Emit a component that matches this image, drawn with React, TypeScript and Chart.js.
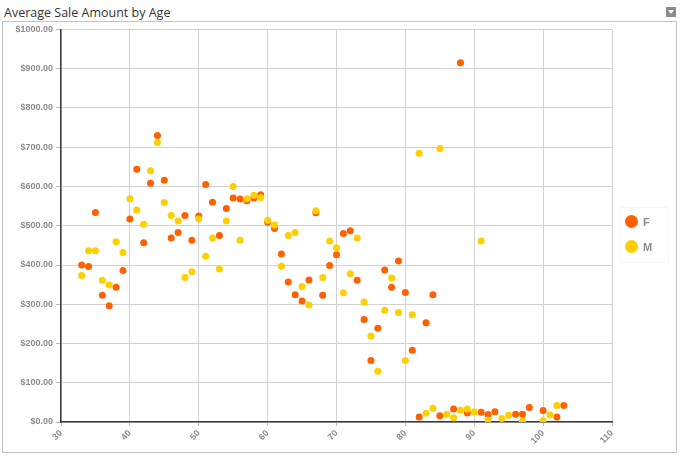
import React, { useEffect, useRef } from "react";
import { Chart, registerables } from "chart.js";

Chart.register(...registerables);

const TITLE = "Average Sale Amount by Age";
const SERIES_NAMES = ["F", "M"];
const SERIES_COLORS = ["#FF6100", "#FFCF00"];

const F_AGES = [33, 34, 35, 36, 37, 38, 39, 40, 41, 42, 43, 44, 45, 46, 47, 48, 49, 50, 51, 52, 53, 54, 55, 56, 57, 58, 59, 60, 61, 62, 63, 64, 65, 66, 67, 68, 69, 70, 71, 72, 73, 74, 75, 76, 77, 78, 79, 80, 81, 82, 83, 84, 85, 87, 88, 89, 91, 92, 93, 96, 97, 98, 100, 102, 103];
const F_SALES = [400, 396, 534, 323, 296, 343, 386, 517, 644, 457, 608, 730, 616, 469, 483, 526, 463, 525, 605, 560, 475, 544, 571, 568, 564, 571, 579, 509, 493, 428, 357, 324, 308, 362, 533, 323, 399, 426, 480, 487, 361, 261, 157, 239, 387, 343, 410, 330, 183, 13, 253, 324, 16, 33, 915, 23, 25, 19, 26, 20, 20, 37, 29, 13, 42];

const M_AGES = [33, 34, 35, 36, 37, 38, 39, 40, 41, 42, 43, 44, 45, 46, 47, 48, 49, 50, 51, 52, 53, 54, 55, 56, 57, 58, 59, 60, 61, 62, 63, 64, 65, 66, 67, 68, 69, 70, 71, 72, 73, 74, 75, 76, 77, 78, 79, 80, 81, 82, 83, 84, 85, 86, 87, 88, 89, 90, 91, 92, 94, 95, 97, 100, 101, 102];
const M_SALES = [373, 436, 436, 361, 349, 459, 432, 569, 540, 504, 640, 712, 559, 526, 512, 368, 383, 517, 422, 469, 390, 512, 600, 463, 569, 578, 572, 514, 502, 397, 475, 483, 345, 298, 538, 368, 461, 444, 329, 378, 469, 306, 219, 129, 285, 367, 279, 157, 273, 685, 22, 35, 697, 20, 11, 30, 33, 26, 461, 5, 9, 17, 3, 3, 18, 42];

const X_MIN = 30;
const X_MAX = 110;
const X_STEP = 10;
const Y_MIN = 0;
const Y_MAX = 1000;
const Y_STEP = 100;

const toPoints = (xs: number[], ys: number[]) => xs.map((x, i) => ({ x, y: ys[i] }));

export default function App() {
  const canvasRef = useRef<HTMLCanvasElement | null>(null);

  useEffect(() => {
    const canvas = canvasRef.current;
    if (!canvas) return;
    const tickFont = { family: "'Liberation Sans', Arial, sans-serif", size: 9, weight: "bold" as const };
    const chart = new Chart(canvas, {
      type: "scatter",
      data: {
        datasets: [
          {
            label: SERIES_NAMES[0],
            data: toPoints(F_AGES, F_SALES),
            backgroundColor: SERIES_COLORS[0],
            borderWidth: 0,
            pointRadius: 3.5,
            order: 1,
          },
          {
            label: SERIES_NAMES[1],
            data: toPoints(M_AGES, M_SALES),
            backgroundColor: SERIES_COLORS[1],
            borderWidth: 0,
            pointRadius: 3.5,
            order: 0,
          },
        ],
      },
      options: {
        animation: false,
        responsive: false,
        maintainAspectRatio: false,
        layout: { padding: { left: 0, right: 69, top: 29.5, bottom: 0 } },
        plugins: {
          legend: { display: false },
          tooltip: { enabled: false },
          title: { display: false },
        },
        scales: {
          x: {
            type: "linear",
            min: X_MIN,
            max: X_MAX,
            afterFit: (s: any) => {
              s.height = 36;
            },
            ticks: {
              stepSize: X_STEP,
              minRotation: 45,
              maxRotation: 45,
              color: "#8c8c8c",
              font: tickFont,
              padding: 2,
            },
            grid: { color: "#d2d2d2", lineWidth: 1, tickLength: 4, tickColor: "#bdbdbd" },
            border: { color: "#3a3a3a", width: 1.5 },
          },
          y: {
            type: "linear",
            min: Y_MIN,
            max: Y_MAX,
            afterFit: (s: any) => {
              s.width = 61;
            },
            ticks: {
              stepSize: Y_STEP,
              color: "#8c8c8c",
              font: tickFont,
              padding: 3,
              callback: (v: any) => "$" + Number(v).toFixed(2),
            },
            grid: { color: "#d2d2d2", lineWidth: 1, tickLength: 5, tickColor: "#bdbdbd" },
            border: { color: "#3a3a3a", width: 1.5 },
          },
        },
      },
    });
    return () => chart.destroy();
  }, []);

  const legendText: React.CSSProperties = {
    fontFamily: "'Liberation Sans', Arial, sans-serif",
    fontWeight: "bold",
    fontSize: 11,
    color: "#8c8c8c",
    marginLeft: 5,
  };

  return (
    <div style={{ position: "fixed", left: 0, top: 0, width: 681, height: 458, background: "#fff", overflow: "hidden" }}>
      <div
        style={{
          position: "absolute",
          left: 4,
          top: 4,
          fontFamily: "'Open Sans', sans-serif",
          fontSize: 12.5,
          color: "#333",
          whiteSpace: "nowrap",
        }}
      >
        {TITLE}
      </div>
      <div
        style={{
          position: "absolute",
          left: 666,
          top: 7,
          width: 10,
          height: 10,
          background: "#8a8a8a",
        }}
      >
        <div
          style={{
            position: "absolute",
            left: 2,
            top: 3,
            width: 0,
            height: 0,
            borderLeft: "3px solid transparent",
            borderRight: "3px solid transparent",
            borderTop: "4px solid #fff",
          }}
        />
      </div>
      <div
        style={{
          position: "absolute",
          left: 2,
          top: 21,
          width: 673,
          height: 430,
          border: "1px solid #c4c4c4",
        }}
      />
      <canvas
        ref={canvasRef}
        width={681}
        height={458}
        style={{ position: "absolute", left: 0, top: 0, width: 681, height: 458 }}
      />
      <div
        style={{
          position: "absolute",
          left: 620,
          top: 207,
          width: 47,
          height: 54,
          border: "1px solid #f6f6f6",
        }}
      />
      {SERIES_NAMES.map((name, i) => (
        <div
          key={name}
          style={{
            position: "absolute",
            left: 625,
            top: 215 + i * 25,
            height: 13,
            display: "flex",
            alignItems: "center",
          }}
        >
          <div style={{ width: 13, height: 13, borderRadius: "50%", background: SERIES_COLORS[i] }} />
          <span style={legendText}>{name}</span>
        </div>
      ))}
    </div>
  );
}
